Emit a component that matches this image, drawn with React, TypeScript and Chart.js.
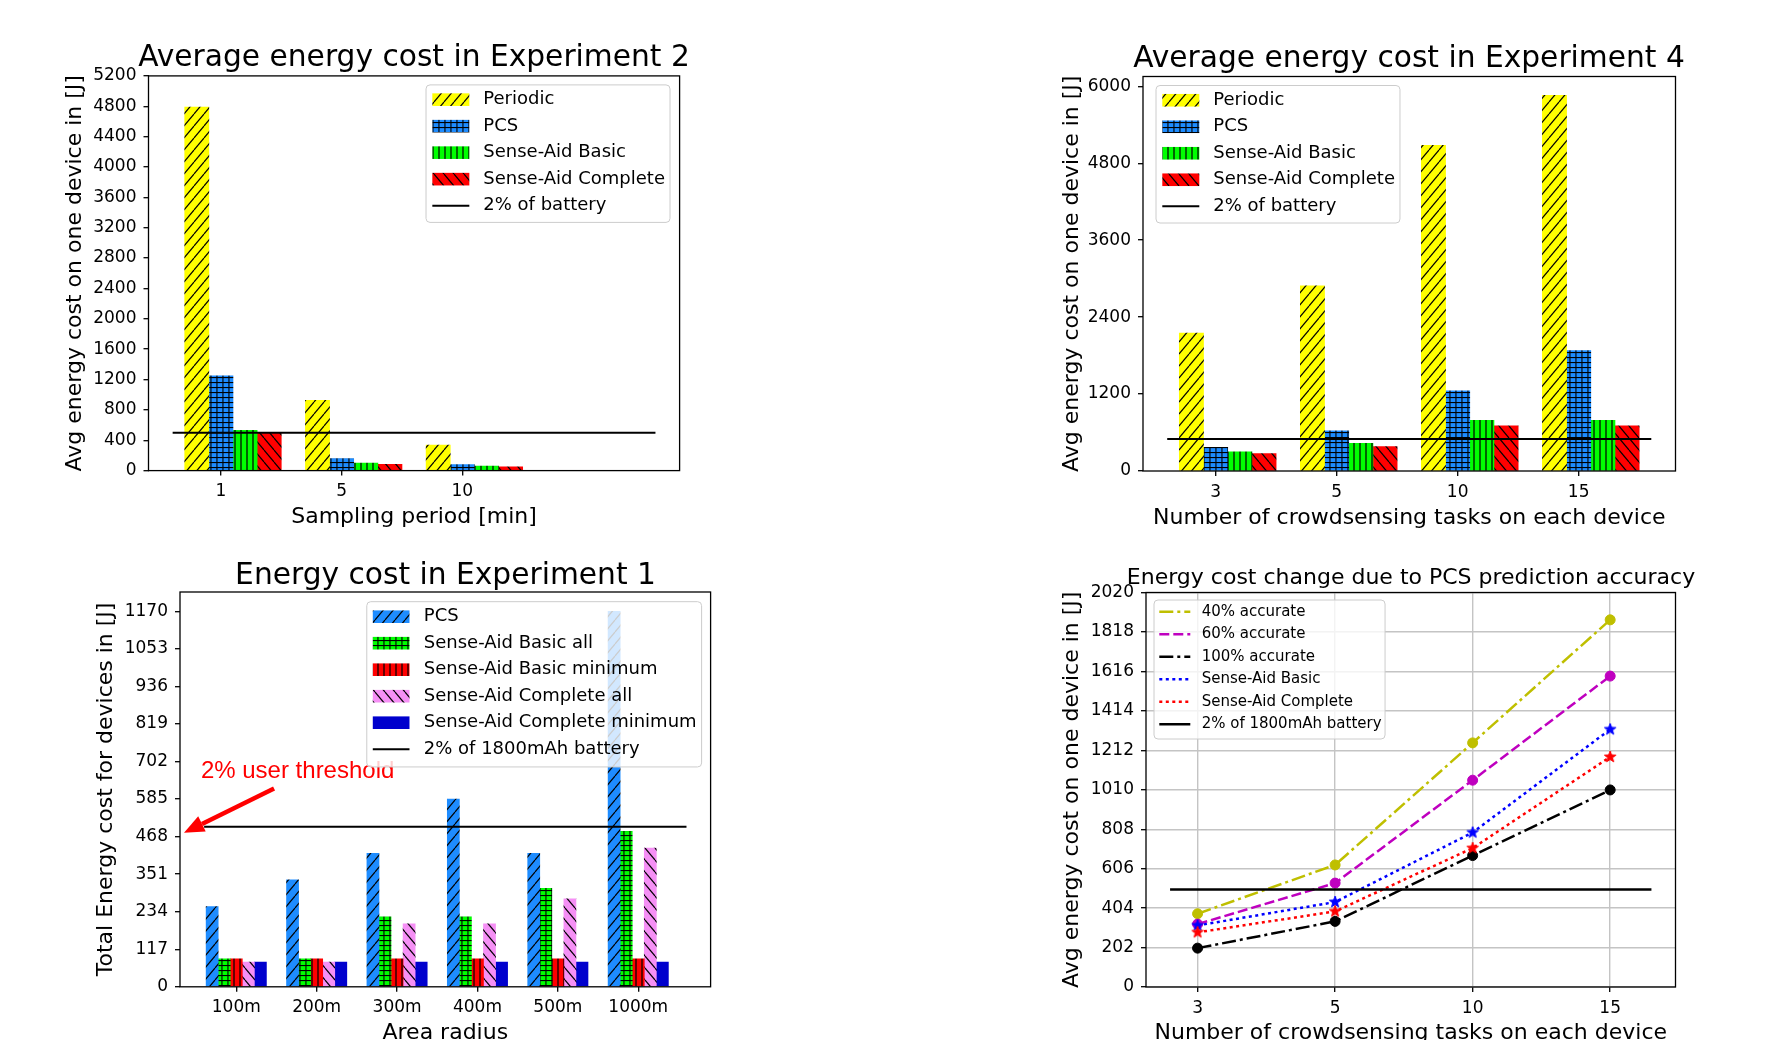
import React, { useEffect, useRef } from 'react';
import { Chart, registerables } from 'chart.js';

Chart.register(...registerables);

const FONT = "'DejaVu Sans', 'Noto Sans', sans-serif";
const ANNOT_FONT = "'Liberation Sans', Arial, sans-serif";

// ---------------- Experiment 2 (top-left) ----------------
const exp2Periods = ['1', '5', '10'];
const exp2Periodic = [4790, 925, 335];
const exp2PCS = [1250, 160, 80];
const exp2Basic = [530, 100, 60];
const exp2Complete = [490, 82, 50];
const exp2YTicks = [0, 400, 800, 1200, 1600, 2000, 2400, 2800, 3200, 3600, 4000, 4400, 4800, 5200];
const exp2YMax = 5200;

// ---------------- Experiment 4 (top-right) ----------------
const exp4Tasks = ['3', '5', '10', '15'];
const exp4Periodic = [2150, 2890, 5080, 5860];
const exp4PCS = [370, 625, 1250, 1880];
const exp4Basic = [300, 430, 790, 790];
const exp4Complete = [270, 380, 705, 705];
const exp4YTicks = [0, 1200, 2400, 3600, 4800, 6000];
const exp4YMax = 6153;

// ---------------- Experiment 1 (bottom-left) ----------------
const exp1Radii = ['100m', '200m', '300m', '400m', '500m', '1000m'];
const exp1PCS = [250, 333, 416, 585, 416, 1170];
const exp1BasicAll = [87, 87, 218, 218, 307, 484];
const exp1BasicMin = [87, 87, 87, 87, 87, 87];
const exp1CompleteAll = [77, 77, 196, 196, 274, 432];
const exp1CompleteMin = [77, 77, 77, 77, 77, 77];
const exp1YTicks = [0, 117, 234, 351, 468, 585, 702, 819, 936, 1053, 1170];
const exp1YMax = 1230;

// ---------------- PCS prediction accuracy (bottom-right) ----------------
const accTasks = ['3', '5', '10', '15'];
const acc40 = [375, 625, 1250, 1880];
const acc60 = [322, 532, 1059, 1592];
const acc100 = [199, 336, 673, 1009];
const accBasic = [315, 435, 791, 1319];
const accComplete = [280, 387, 711, 1178];
const accYTicks = [0, 202, 404, 606, 808, 1010, 1212, 1414, 1616, 1818, 2020];
const accYMax = 2020;

// 2% battery threshold line
const batteryThreshold = 499;
const exp2ThresholdSpan = [-0.4, 3.6];
const exp4ThresholdSpan = [-0.4, 3.6];
const exp1ThresholdSpan = [-0.4, 5.6];
const accThresholdSpan = [-0.2, 3.3];

// annotation of Experiment 1 (data coordinates)
const exp1AnnotationText = '2% user threshold';
const exp1AnnotationTextAt = [-0.44, 650];
const exp1ArrowFrom = [0.47, 618];
const exp1ArrowTo = [-0.65, 480];

// ---------------- styles ----------------
const YELLOW = '#ffff00';
const BLUE = '#1e8cff';
const GREEN = '#00ff00';
const RED = '#ff0000';
const PINK = '#f590f5';
const NAVY = '#0000cd';

// canvas boxes are centred on the plot area so that the title is centred over it
const P1 = { x: 34, y: 30, w: 760, h: 510, yAxisW: 114.5, xAxisH: 69.4, padRight: 114.4, titleSize: 29.7, titleTop: 13.2, titleBottom: 3, yTitlePad: 28.2, xTitlePad: 9.5, tickSize: 17, xMin: -0.6, xMax: 3.8 };
const P2 = { x: 1039, y: 30, w: 740, h: 510, yAxisW: 104, xAxisH: 69, padRight: 103.5, titleSize: 29.7, titleTop: 14.2, titleBottom: 2.6, yTitlePad: 19.8, xTitlePad: 8.5, tickSize: 17, xMin: -0.6, xMax: 3.8 };
const P3 = { x: 75, y: 548, w: 741, h: 512, yAxisW: 105, xAxisH: 73.2, padRight: 105.4, titleSize: 29.7, titleTop: 13.2, titleBottom: 1.1, yTitlePad: 18.1, xTitlePad: 13.5, tickSize: 17, xMin: -0.7, xMax: 5.9 };
const P4 = { x: 1041, y: 548, w: 740, h: 512, yAxisW: 105, xAxisH: 73, padRight: 105.5, titleSize: 22, titleTop: 19.3, titleBottom: 3.2, yTitlePad: 17.8, xTitlePad: 13.5, tickSize: 17, xMin: -0.375, xMax: 3.475 };

const LEG1 = { corner: 'tr', offX: 9.6, offY: 9, fontSize: 18, rowH: 26.5, handleW: 37, gap: 14, padL: 6.3, padR: 5, padT: 1.5, padB: 3.5, patchH: 12.6 };
const LEG2 = { ...LEG1, corner: 'tl', offX: 13, offY: 9 };
const LEG3 = { corner: 'tr', offX: 9, offY: 9.7, fontSize: 18, rowH: 26.5, handleW: 36.7, gap: 14.3, padL: 6, padR: 5, padT: 1.75, padB: 4.5, patchH: 12.6 };
const LEG4 = { corner: 'tl', offX: 8, offY: 7.5, fontSize: 15, rowH: 22.5, handleW: 31, gap: 11.4, padL: 5.3, padR: 3.5, padT: 0.5, padB: 3.5, patchH: 10.5 };

function makeHatch(bg: string, kind: string): any {
  let w = 10, h = 12;
  if (kind === '|') { w = 6; h = 6; }
  if (kind === '+') { w = 6; h = 5; }
  const c = document.createElement('canvas');
  c.width = w; c.height = h;
  const g = c.getContext('2d') as CanvasRenderingContext2D;
  g.fillStyle = bg;
  g.fillRect(0, 0, w, h);
  g.strokeStyle = '#000';
  g.fillStyle = '#000';
  g.lineWidth = 1.2;
  if (kind === '/' || kind === '\\') {
    for (let k = -1; k <= 1; k++) {
      g.beginPath();
      if (kind === '/') { g.moveTo(k * w, h); g.lineTo(k * w + w, 0); }
      else { g.moveTo(k * w, 0); g.lineTo(k * w + w, h); }
      g.stroke();
    }
  } else if (kind === '|') {
    g.fillRect(2.4, 0, 1.2, h);
  } else if (kind === '+') {
    g.fillRect(2.4, 0, 1.1, h);
    g.fillRect(0, 2, w, 1.1);
  }
  const pat = (document.createElement('canvas').getContext('2d') as CanvasRenderingContext2D).createPattern(c, 'repeat');
  return pat;
}

function makeStar(color: string, r: number) {
  const s = 2 * Math.ceil(r + 2);
  const c = document.createElement('canvas');
  c.width = s; c.height = s;
  const g = c.getContext('2d') as CanvasRenderingContext2D;
  g.translate(s / 2, s / 2);
  g.beginPath();
  for (let i = 0; i < 10; i++) {
    const rad = i % 2 === 0 ? r : r * 0.42;
    const ang = -Math.PI / 2 + (i * Math.PI) / 5;
    const px = rad * Math.cos(ang);
    const py = rad * Math.sin(ang);
    if (i === 0) g.moveTo(px, py); else g.lineTo(px, py);
  }
  g.closePath();
  g.fillStyle = color;
  g.fill();
  g.strokeStyle = color;
  g.lineWidth = 1;
  g.stroke();
  return c;
}

function roundRectPath(ctx: CanvasRenderingContext2D, x: number, y: number, w: number, h: number, r: number) {
  ctx.beginPath();
  ctx.moveTo(x + r, y);
  ctx.lineTo(x + w - r, y);
  ctx.arcTo(x + w, y, x + w, y + r, r);
  ctx.lineTo(x + w, y + h - r);
  ctx.arcTo(x + w, y + h, x + w - r, y + h, r);
  ctx.lineTo(x + r, y + h);
  ctx.arcTo(x, y + h, x, y + h - r, r);
  ctx.lineTo(x, y + r);
  ctx.arcTo(x, y, x + r, y, r);
  ctx.closePath();
}

function drawLegend(chart: any, L: any) {
  const ctx: CanvasRenderingContext2D = chart.ctx;
  const a = chart.chartArea;
  const items = chart.data.datasets.map((ds: any) => ({
    label: ds.label,
    kind: ds.type === 'line' ? 'line' : 'patch',
    fill: ds.backgroundColor,
    color: ds.borderColor,
    dash: ds.borderDash || [],
    lw: ds.borderWidth || 2,
  }));
  ctx.save();
  ctx.font = `${L.fontSize}px ${FONT}`;
  const maxW = Math.max(...items.map((it: any) => ctx.measureText(it.label).width));
  const w = L.padL + L.handleW + L.gap + maxW + L.padR;
  const h = items.length * L.rowH + L.padT + L.padB;
  const x = L.corner === 'tr' ? a.right - L.offX - w : a.left + L.offX;
  const y = a.top + L.offY;
  roundRectPath(ctx, x, y, w, h, 4);
  ctx.fillStyle = 'rgba(255,255,255,0.8)';
  ctx.fill();
  ctx.strokeStyle = '#cccccc';
  ctx.lineWidth = 1;
  ctx.stroke();
  items.forEach((it: any, i: number) => {
    const cy = y + L.padT + L.rowH * (i + 0.5);
    const hx = x + L.padL;
    if (it.kind === 'patch') {
      ctx.fillStyle = it.fill;
      ctx.fillRect(hx, cy - L.patchH / 2, L.handleW, L.patchH);
    } else {
      ctx.strokeStyle = it.color;
      ctx.lineWidth = it.lw;
      ctx.setLineDash(it.dash);
      ctx.beginPath();
      ctx.moveTo(hx, cy);
      ctx.lineTo(hx + L.handleW, cy);
      ctx.stroke();
      ctx.setLineDash([]);
    }
    ctx.fillStyle = '#000';
    ctx.textAlign = 'left';
    ctx.textBaseline = 'middle';
    ctx.fillText(it.label, hx + L.handleW + L.gap, cy);
  });
  ctx.restore();
}

function drawAnnotation(chart: any) {
  const ctx: CanvasRenderingContext2D = chart.ctx;
  const xs = chart.scales.x;
  const ys = chart.scales.y;
  const px = (p: number[]) => [xs.getPixelForValue(p[0]), ys.getPixelForValue(p[1])];
  const [fx, fy] = px(exp1ArrowFrom);
  const [tx, ty] = px(exp1ArrowTo);
  const ang = Math.atan2(ty - fy, tx - fx);
  const headLen = 20;
  const headHalf = 8.5;
  const bx = tx - headLen * Math.cos(ang);
  const by = ty - headLen * Math.sin(ang);
  ctx.save();
  ctx.strokeStyle = RED;
  ctx.lineWidth = 4.5;
  ctx.beginPath();
  ctx.moveTo(fx, fy);
  ctx.lineTo(bx, by);
  ctx.stroke();
  ctx.fillStyle = RED;
  ctx.beginPath();
  ctx.moveTo(tx, ty);
  ctx.lineTo(bx + headHalf * Math.sin(ang), by - headHalf * Math.cos(ang));
  ctx.lineTo(bx - headHalf * Math.sin(ang), by + headHalf * Math.cos(ang));
  ctx.closePath();
  ctx.fill();
  const [lx, ly] = px(exp1AnnotationTextAt);
  ctx.font = `24px ${ANNOT_FONT}`;
  ctx.textAlign = 'left';
  ctx.textBaseline = 'alphabetic';
  ctx.fillText(exp1AnnotationText, lx, ly);
  ctx.restore();
}

function decorPlugin(legendCfg: any, annotate: boolean) {
  return {
    id: 'decor',
    afterDatasetsDraw(chart: any) {
      const ctx: CanvasRenderingContext2D = chart.ctx;
      const a = chart.chartArea;
      ctx.save();
      ctx.strokeStyle = '#000';
      ctx.lineWidth = 1.3;
      ctx.setLineDash([]);
      ctx.strokeRect(a.left, a.top, a.right - a.left, a.bottom - a.top);
      ctx.restore();
      if (annotate) drawAnnotation(chart);
      drawLegend(chart, legendCfg);
    },
  };
}

function buildScales(L: any, xCats: string[], yTicks: number[], yMax: number, xLabel: string, yLabel: string, showGrid: boolean) {
  const tickFont = { family: FONT, size: L.tickSize };
  const grid = {
    display: true,
    drawOnChartArea: showGrid,
    color: '#c4c4c4',
    lineWidth: 1.4,
    drawTicks: true,
    tickLength: 5,
    tickColor: '#000',
    tickWidth: 1.3,
    offset: false,
  };
  return {
    x: {
      type: 'linear',
      min: L.xMin,
      max: L.xMax,
      offset: false,
      grid,
      border: { display: false },
      afterBuildTicks: (s: any) => { s.ticks = xCats.map((_c, i) => ({ value: i })); },
      afterFit: (s: any) => { s.height = L.xAxisH; },
      ticks: { autoSkip: false, maxRotation: 0, minRotation: 0, font: tickFont, color: '#000', padding: 6, callback: (_v: any, i: number) => xCats[i] },
      title: { display: true, text: xLabel, color: '#000', font: { family: FONT, size: 22 }, padding: { top: 0, bottom: L.xTitlePad } },
    },
    y: {
      type: 'linear',
      min: 0,
      max: yMax,
      grid,
      border: { display: false },
      afterBuildTicks: (s: any) => { s.ticks = yTicks.map((v) => ({ value: v })); },
      afterFit: (s: any) => { s.width = L.yAxisW; },
      ticks: { autoSkip: false, font: tickFont, color: '#000', padding: 7, callback: (v: any) => String(v) },
      title: { display: true, text: yLabel, color: '#000', font: { family: FONT, size: 22 }, padding: { top: L.yTitlePad, bottom: 0 } },
    },
    // empty spacer on the right so the canvas (and the title) is centred on the plot
    ySpacer: {
      type: 'linear',
      axis: 'y',
      position: 'right',
      display: true,
      grid: { display: false, drawTicks: false },
      border: { display: false },
      ticks: { display: false },
      title: { display: false },
      afterFit: (s: any) => { s.width = L.padRight; },
    },
  };
}

function baseOptions(L: any, title: string, scales: any) {
  return {
    responsive: false,
    animation: false,
    devicePixelRatio: 1,
    events: [],
    layout: { padding: 0 },
    plugins: {
      legend: { display: false },
      tooltip: { enabled: false },
      title: {
        display: true,
        text: title,
        color: '#000',
        fullSize: true,
        font: { family: FONT, size: L.titleSize, weight: 'normal', lineHeight: 1 },
        padding: { top: L.titleTop, bottom: L.titleBottom },
      },
    },
    scales,
  };
}

function barSeries(series: any[], width: number, anchor: number) {
  return series.map((s, k) => ({
    type: 'bar',
    label: s.label,
    backgroundColor: s.fill,
    data: s.values.map((v: number, i: number) => ({ x: i + (k - anchor) * width, y: v })),
    grouped: false,
    barPercentage: 1,
    categoryPercentage: 1,
    borderWidth: 0,
    order: 10 + k,
  }));
}

function thresholdSeries(label: string, span: number[], lw: number) {
  return {
    type: 'line',
    label,
    data: span.map((x) => ({ x, y: batteryThreshold })),
    borderColor: '#000',
    backgroundColor: '#000',
    borderWidth: lw,
    pointRadius: 0,
    order: -10,
  };
}

function configExp2() {
  const datasets = [
    ...barSeries([
      { label: 'Periodic', values: exp2Periodic, fill: makeHatch(YELLOW, '/') },
      { label: 'PCS', values: exp2PCS, fill: makeHatch(BLUE, '+') },
      { label: 'Sense-Aid Basic', values: exp2Basic, fill: makeHatch(GREEN, '|') },
      { label: 'Sense-Aid Complete', values: exp2Complete, fill: makeHatch(RED, '\\') },
    ], 0.2, 1),
    thresholdSeries('2% of battery', exp2ThresholdSpan, 2),
  ];
  return {
    type: 'bar',
    data: { datasets },
    options: baseOptions(P1, 'Average energy cost in Experiment 2',
      buildScales(P1, exp2Periods, exp2YTicks, exp2YMax, 'Sampling period [min]', 'Avg energy cost on one device in [J]', false)),
    plugins: [decorPlugin(LEG1, false)],
  };
}

function configExp4() {
  const datasets = [
    ...barSeries([
      { label: 'Periodic', values: exp4Periodic, fill: makeHatch(YELLOW, '/') },
      { label: 'PCS', values: exp4PCS, fill: makeHatch(BLUE, '+') },
      { label: 'Sense-Aid Basic', values: exp4Basic, fill: makeHatch(GREEN, '|') },
      { label: 'Sense-Aid Complete', values: exp4Complete, fill: makeHatch(RED, '\\') },
    ], 0.2, 1),
    thresholdSeries('2% of battery', exp4ThresholdSpan, 2),
  ];
  return {
    type: 'bar',
    data: { datasets },
    options: baseOptions(P2, 'Average energy cost in Experiment 4',
      buildScales(P2, exp4Tasks, exp4YTicks, exp4YMax, 'Number of crowdsensing tasks on each device', 'Avg energy cost on one device in [J]', false)),
    plugins: [decorPlugin(LEG2, false)],
  };
}

function configExp1() {
  const datasets = [
    ...barSeries([
      { label: 'PCS', values: exp1PCS, fill: makeHatch(BLUE, '/') },
      { label: 'Sense-Aid Basic all', values: exp1BasicAll, fill: makeHatch(GREEN, '+') },
      { label: 'Sense-Aid Basic minimum', values: exp1BasicMin, fill: makeHatch(RED, '|') },
      { label: 'Sense-Aid Complete all', values: exp1CompleteAll, fill: makeHatch(PINK, '\\') },
      { label: 'Sense-Aid Complete minimum', values: exp1CompleteMin, fill: NAVY },
    ], 0.15, 2),
    thresholdSeries('2% of 1800mAh battery', exp1ThresholdSpan, 2),
  ];
  return {
    type: 'bar',
    data: { datasets },
    options: baseOptions(P3, 'Energy cost in Experiment 1',
      buildScales(P3, exp1Radii, exp1YTicks, exp1YMax, 'Area radius', 'Total Energy cost for devices in [J]', false)),
    plugins: [decorPlugin(LEG3, true)],
  };
}

function configAccuracy() {
  const series = [
    { label: '40% accurate', values: acc40, color: '#bfbf00', dash: [14, 4, 3, 4], marker: 'circle' },
    { label: '60% accurate', values: acc60, color: '#bf00bf', dash: [10, 4], marker: 'circle' },
    { label: '100% accurate', values: acc100, color: '#000000', dash: [14, 4, 3, 4], marker: 'circle' },
    { label: 'Sense-Aid Basic', values: accBasic, color: '#0000ff', dash: [3, 3.5], marker: 'star' },
    { label: 'Sense-Aid Complete', values: accComplete, color: '#ff0000', dash: [3, 3.5], marker: 'star' },
  ];
  const datasets: any[] = series.map((s, k) => ({
    type: 'line',
    label: s.label,
    data: s.values.map((v, i) => ({ x: i, y: v })),
    borderColor: s.color,
    backgroundColor: s.color,
    borderWidth: 2.5,
    borderDash: s.dash,
    pointStyle: s.marker === 'star' ? makeStar(s.color, 6) : 'circle',
    pointRadius: s.marker === 'star' ? 6 : 5,
    pointBackgroundColor: s.color,
    pointBorderColor: s.color,
    pointBorderWidth: 1,
    tension: 0,
    order: -k,
  }));
  datasets.push({ ...thresholdSeries('2% of 1800mAh battery', accThresholdSpan, 2.5), order: -20 });
  return {
    type: 'line',
    data: { datasets },
    options: baseOptions(P4, 'Energy cost change due to PCS prediction accuracy',
      buildScales(P4, accTasks, accYTicks, accYMax, 'Number of crowdsensing tasks on each device', 'Avg energy cost on one device in [J]', true)),
    plugins: [decorPlugin(LEG4, false)],
  };
}

const PANELS = [
  { L: P1, build: configExp2 },
  { L: P2, build: configExp4 },
  { L: P3, build: configExp1 },
  { L: P4, build: configAccuracy },
];

export default function App() {
  const refs = [useRef<HTMLCanvasElement>(null), useRef<HTMLCanvasElement>(null), useRef<HTMLCanvasElement>(null), useRef<HTMLCanvasElement>(null)];
  useEffect(() => {
    Chart.defaults.font.family = FONT;
    Chart.defaults.color = '#000';
    const charts = PANELS.map((p, i) => new Chart(refs[i].current as HTMLCanvasElement, p.build() as any));
    return () => charts.forEach((c) => c.destroy());
  }, []);
  return (
    <div style={{ position: 'fixed', left: 0, top: 0, width: 1791, height: 1040, overflow: 'hidden', background: '#ffffff' }}>
      {PANELS.map((p, i) => (
        <canvas
          key={i}
          ref={refs[i]}
          width={p.L.w}
          height={p.L.h}
          style={{ position: 'absolute', left: p.L.x, top: p.L.y, width: p.L.w, height: p.L.h, display: 'block' }}
        />
      ))}
    </div>
  );
}
